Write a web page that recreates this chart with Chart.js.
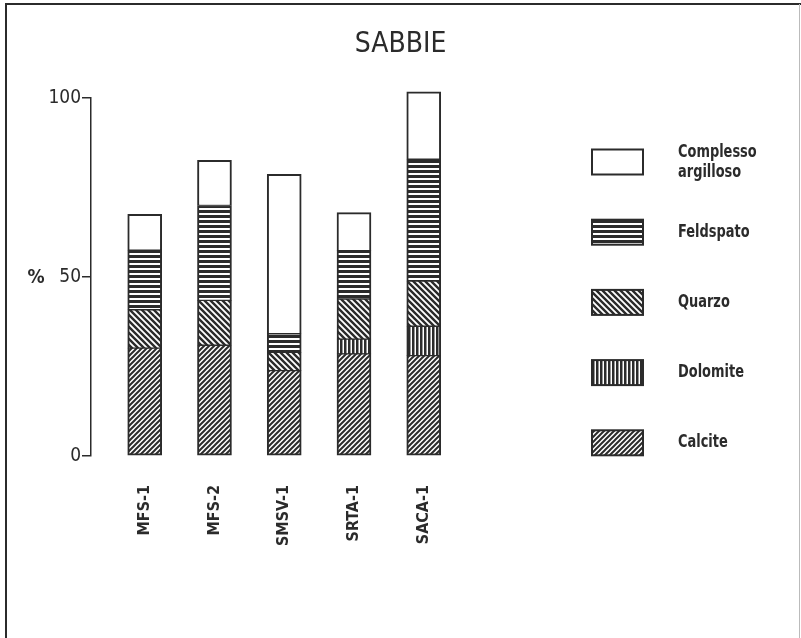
<!DOCTYPE html>
<html><head><meta charset="utf-8">
<script src="https://cdn.jsdelivr.net/npm/chart.js@4.4.1/dist/chart.umd.min.js"></script>
<style>html,body{margin:0;padding:0;background:#fff}#wrap{position:relative;width:801px;height:638px}</style>
</head><body><div id="wrap"><canvas id="c" width="801" height="638"></canvas></div>
<script>
const categories = ['MFS-1', 'MFS-2', 'SMSV-1', 'SRTA-1', 'SACA-1'];
const calcite   = [30.1, 30.9, 23.8, 28.5, 28.0];
const dolomite  = [0, 0, 0, 4.1, 8.2];
const quarzo    = [10.7, 12.5, 5.1, 11.2, 12.6];
const feldspato = [16.6, 26.5, 5.2, 13.5, 34.0];
const complesso = [10.0, 12.6, 44.5, 10.6, 18.8];
const seriesNames = ['Calcite', 'Dolomite', 'Quarzo', 'Feldspato', 'Complesso argilloso'];
const yTicks = [0, 50, 100];
const titleText = 'SABBIE';
const yUnit = '%';

const INK = '#2b2b2b';
const FAM = "'Liberation Sans Narrow', 'DejaVu Sans Condensed', 'Liberation Sans', sans-serif";

function makePattern(kind) {
  if (kind === 'w') return '#fff';
  const s = kind === 'h' ? 5 : (kind === 'v' ? 4 : (kind === 'f' ? 5 : 6));
  const c = document.createElement('canvas'); c.width = s; c.height = s;
  const g = c.getContext('2d');
  g.fillStyle = '#fff'; g.fillRect(0, 0, s, s);
  g.fillStyle = INK; g.strokeStyle = INK;
  if (kind === 'h') g.fillRect(0, 0, s, 3);
  if (kind === 'v') g.fillRect(0, 0, 2.5, s);
  if (kind === 'f') {
    g.lineWidth = 2;
    g.beginPath();
    g.moveTo(0, s); g.lineTo(s, 0);
    g.moveTo(-1, 1); g.lineTo(1, -1);
    g.moveTo(s - 1, s + 1); g.lineTo(s + 1, s - 1);
    g.stroke();
  }
  if (kind === 'b') {
    g.lineWidth = 2.4;
    g.beginPath();
    g.moveTo(0, 0); g.lineTo(s, s);
    g.moveTo(-1, s - 1); g.lineTo(1, s + 1);
    g.moveTo(s - 1, -1); g.lineTo(s + 1, 1);
    g.stroke();
  }
  return g.createPattern(c, 'repeat');
}

const seriesValues = [calcite, dolomite, quarzo, feldspato, complesso];
const seriesKinds = ['f', 'v', 'b', 'h', 'w'];

const datasets = seriesNames.map((name, k) => ({
  label: name,
  data: seriesValues[k].map((v, i) => ({ x: i + 1, y: v })),
  backgroundColor: makePattern(seriesKinds[k]),
  borderColor: INK,
  borderWidth: {
    left: 2, right: 2,
    top: k === seriesNames.length - 1 ? 2 : 1,
    bottom: k === 0 ? 2 : 1
  },
  borderSkipped: false,
  barThickness: 34,
  clip: false
}));

function condensedText(ctx, text, x, y, sx) {
  ctx.save();
  ctx.translate(x, y);
  ctx.scale(sx, 1);
  ctx.fillText(text, 0, 0);
  ctx.restore();
}

const decor = {
  id: 'decor',
  beforeDraw(chart) {
    const ctx = chart.ctx;
    ctx.save();
    ctx.fillStyle = '#fff';
    ctx.fillRect(0, 0, chart.width, chart.height);
    ctx.strokeStyle = INK; ctx.lineWidth = 2;
    ctx.beginPath();
    ctx.moveTo(6, 638); ctx.lineTo(6, 4); ctx.lineTo(801, 4);
    ctx.stroke();
    ctx.strokeStyle = '#bbb'; ctx.lineWidth = 1;
    ctx.beginPath(); ctx.moveTo(799.5, 4); ctx.lineTo(799.5, 638); ctx.stroke();
    ctx.restore();
  },
  afterDraw(chart) {
    const ctx = chart.ctx;
    const ys = chart.scales.y;
    ctx.save();
    ctx.fillStyle = INK;
    ctx.font = "bold 19px " + FAM;
    ctx.textAlign = 'center'; ctx.textBaseline = 'middle';
    ctx.fillText(yUnit, 36, ys.getPixelForValue(50) + 1);
    const ds = chart.data.datasets;
    const x0 = 592, w = 51, h = 25, firstY = 162, step = 70.2;
    ctx.font = "bold 18px " + FAM;
    ctx.textAlign = 'left';
    for (let j = 0; j < ds.length; j++) {
      const d = ds[ds.length - 1 - j];
      const cy = firstY + j * step;
      ctx.fillStyle = d.backgroundColor;
      ctx.fillRect(x0, cy - h / 2, w, h);
      ctx.strokeStyle = INK; ctx.lineWidth = 2;
      ctx.strokeRect(x0, cy - h / 2, w, h);
      ctx.fillStyle = INK;
      const words = d.label.split(' ');
      if (words.length > 1) {
        condensedText(ctx, words[0], 678, cy - 10, 0.8);
        condensedText(ctx, words.slice(1).join(' '), 678, cy + 10, 0.8);
      } else {
        condensedText(ctx, d.label, 678, cy, 0.8);
      }
    }
    ctx.restore();
  }
};

new Chart(document.getElementById('c'), {
  type: 'bar',
  data: { datasets },
  options: {
    responsive: false,
    animation: false,
    devicePixelRatio: 1,
    layout: { padding: { top: 0, left: 0, right: 0, bottom: 0 } },
    plugins: {
      legend: { display: false },
      tooltip: { enabled: false },
      title: {
        display: true, text: titleText, color: INK,
        font: { family: FAM, size: 28, weight: 'normal' },
        padding: { top: 28, bottom: 36 }
      }
    },
    scales: {
      x: {
        type: 'linear', stacked: true, min: 0.23, max: 10.408, offset: false,
        afterBuildTicks: s => { s.ticks = categories.map((_, i) => ({ value: i + 1 })); },
        afterFit: s => { s.height = 182; },
        border: { display: false },
        grid: { display: false, drawTicks: false, offset: false },
        ticks: {
          autoSkip: false, minRotation: 90, maxRotation: 90, padding: 29, color: INK,
          font: { family: FAM, size: 16, weight: 'bold' },
          callback: v => categories[v - 1] ?? ''
        }
      },
      y: {
        stacked: true, min: 0, max: 100,
        afterBuildTicks: s => { s.ticks = yTicks.map(v => ({ value: v })); },
        afterFit: s => { s.width = 91; },
        border: { display: true, color: INK, width: 1.5 },
        grid: { drawOnChartArea: false, drawTicks: true, tickLength: 9, color: INK, lineWidth: 1.5 },
        ticks: { padding: 1, color: INK, font: { family: FAM, size: 19, weight: 'normal' } }
      }
    }
  },
  plugins: [decor]
});
</script>
</body></html>
